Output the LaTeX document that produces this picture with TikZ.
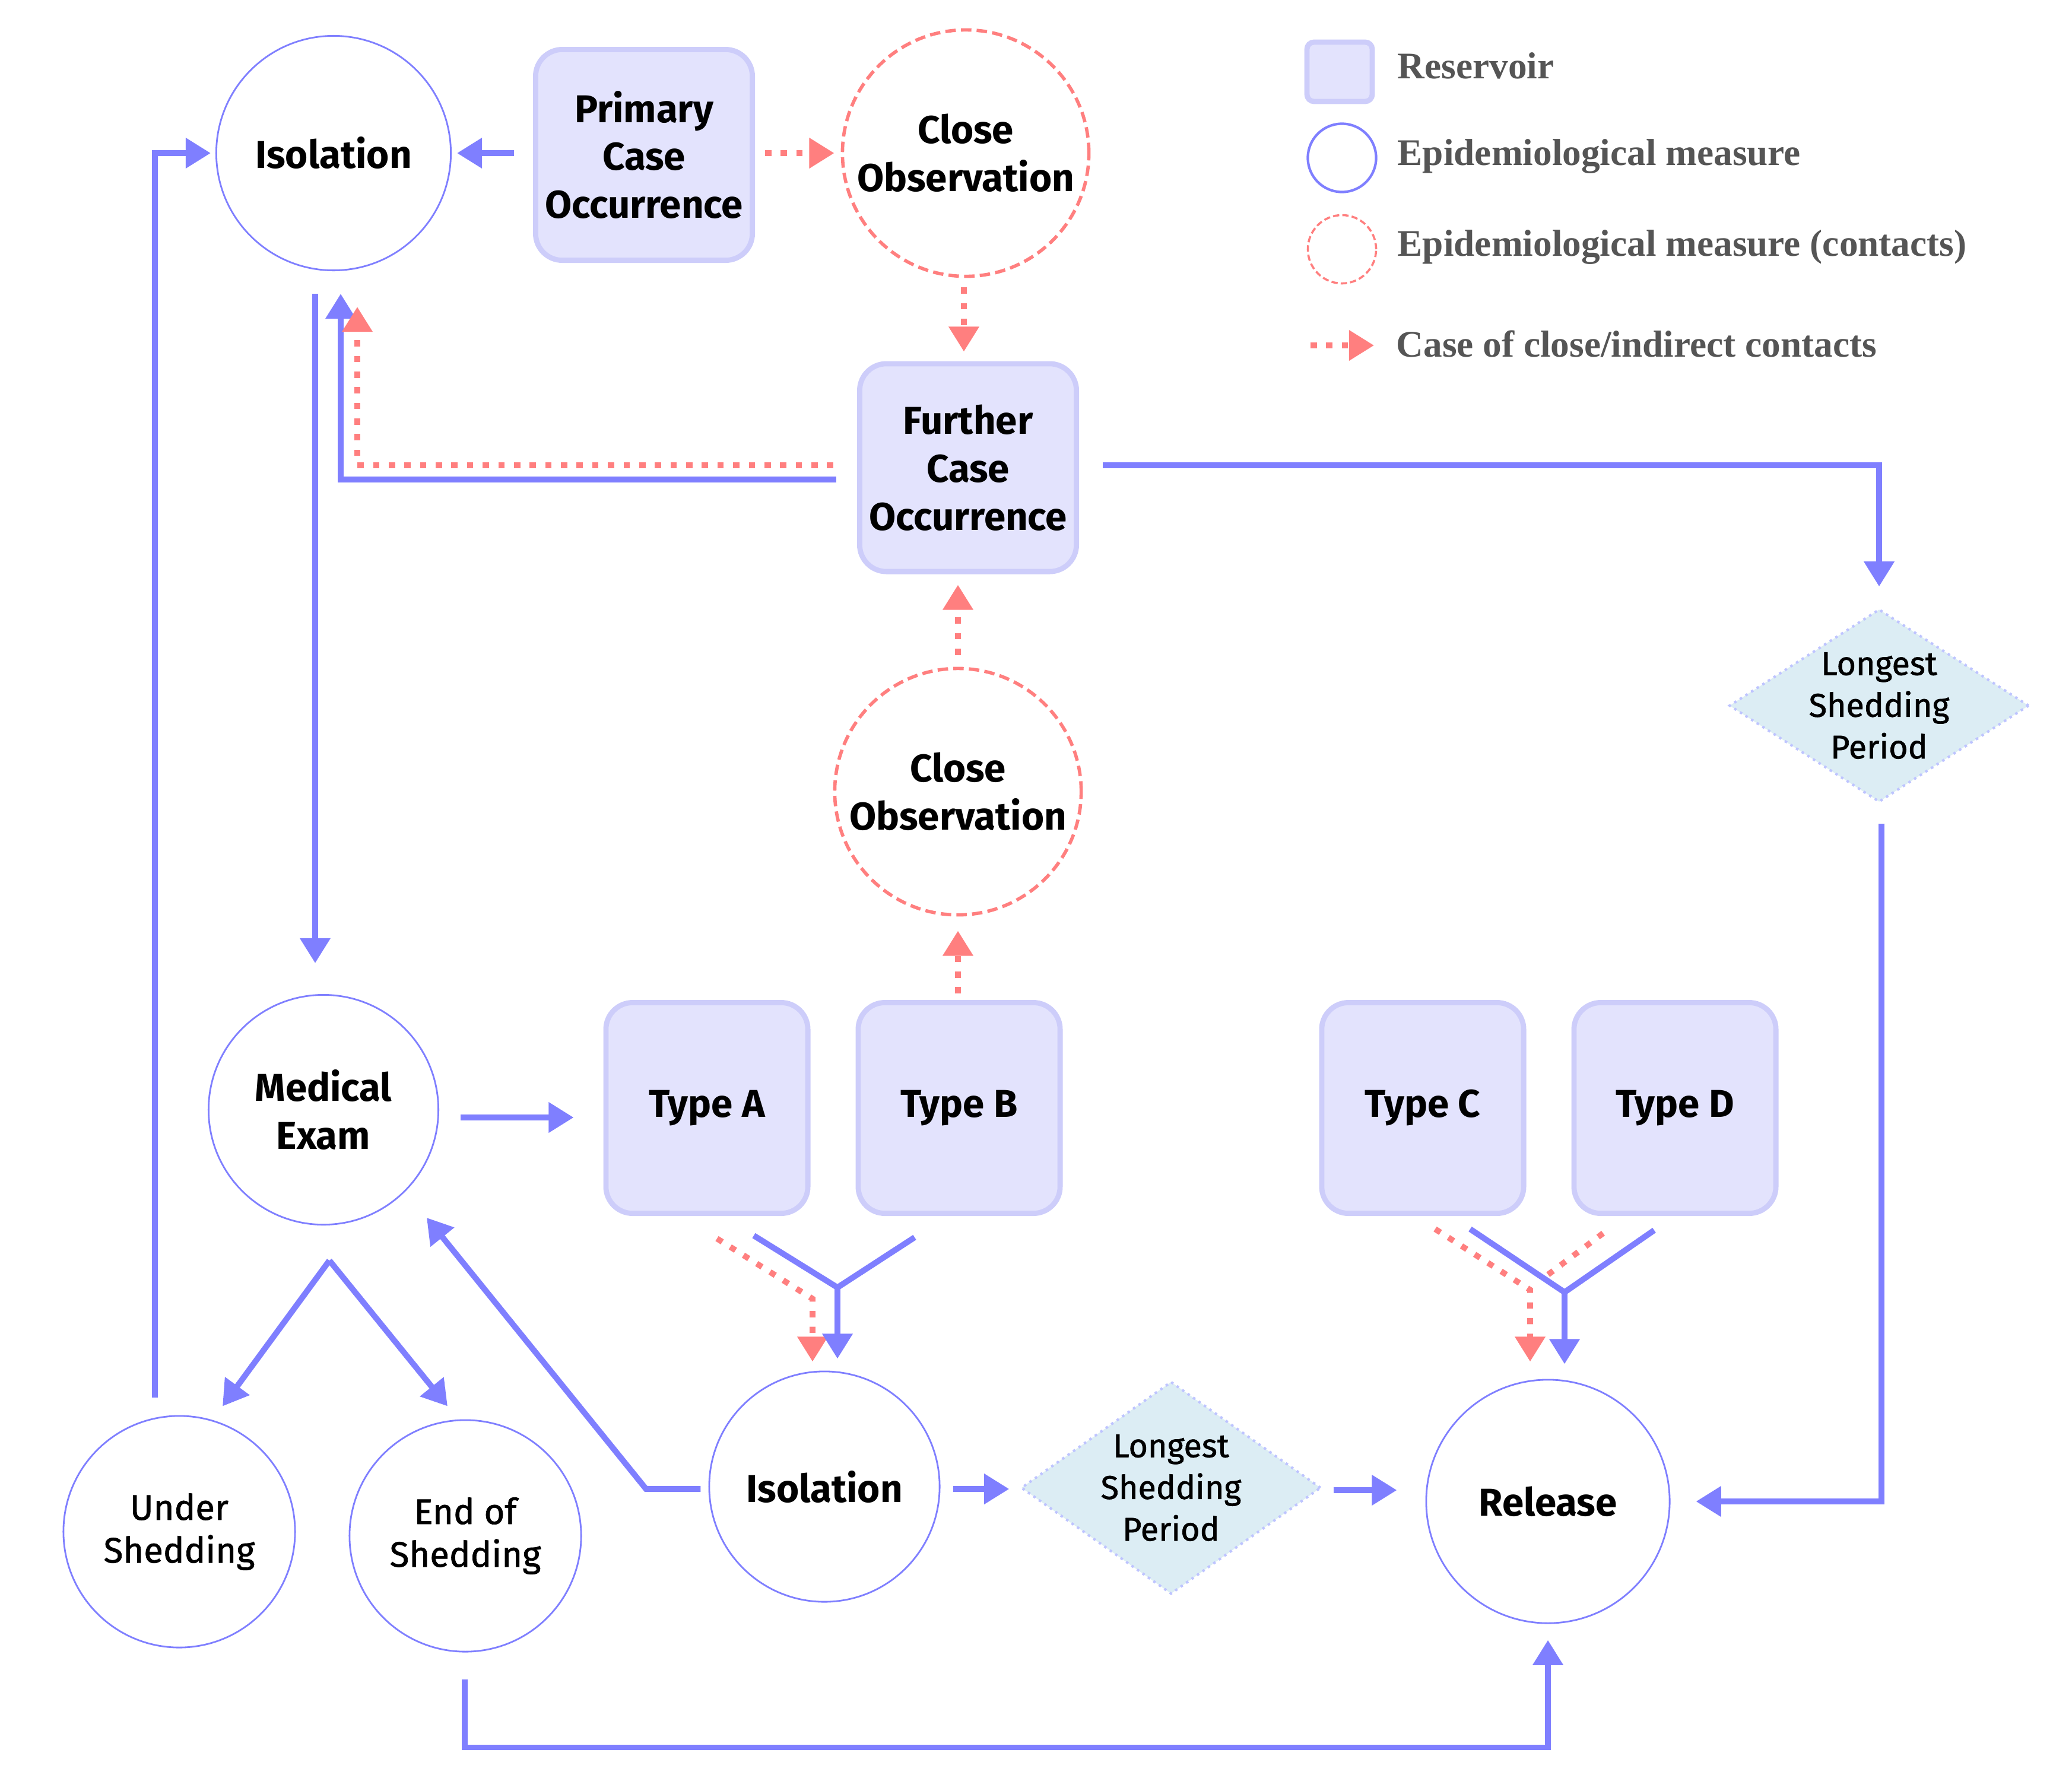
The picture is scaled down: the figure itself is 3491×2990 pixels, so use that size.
\documentclass[tikz,border=0pt]{standalone}
\usepackage{fontspec}
\newfontfamily\nsans{Fira Sans}
\newfontfamily\nsemi{Fira Sans}[FakeBold=1.2]
\newfontfamily\lserif{Liberation Serif}
\usetikzlibrary{arrows.meta,shapes.geometric,calc}
\definecolor{mblue}{RGB}{127,127,255}
\definecolor{mred}{RGB}{255,127,127}
\definecolor{boxfill}{RGB}{227,227,253}
\definecolor{boxedge}{RGB}{205,205,250}
\definecolor{diafill}{RGB}{220,237,244}
\definecolor{diaedge}{RGB}{190,196,255}
\definecolor{legtext}{RGB}{85,85,85}
\begin{document}
\begin{tikzpicture}[x=0.01cm,y=-0.01cm,
  bigtext/.style={font=\nsans\bfseries\fontsize{18.6}{23}\selectfont, align=center},
  smalltext/.style={font=\nsemi\fontsize{15.8}{20}\selectfont, align=center},
  shedtext/.style={font=\nsemi\fontsize{17}{20.5}\selectfont, align=center},
  meas/.style={circle, draw=mblue, line width=0.8pt, fill=white, inner sep=-0.6cm},
  cmeas/.style={circle, draw=mred, line width=1.6pt, dash pattern=on 5pt off 2.5pt, fill=white, inner sep=-0.6cm},
  resbox/.style={rectangle, rounded corners=0.45cm, fill=boxfill, draw=boxedge, line width=2.5pt, inner sep=-0.6cm},
  decis/.style={diamond, fill=diafill, draw=diaedge, line width=1.2pt, dotted, inner sep=-0.8cm},
  bline/.style={draw=mblue, line width=2.8pt},
  barrow/.style={bline, -{Triangle[length=12pt,width=14pt]}},
  rline/.style={draw=mred, line width=2.8pt, dash pattern=on 3pt off 4.5pt},
  rarrow/.style={rline, -{Triangle[length=12pt,width=14pt]}},
  legtxt/.style={font=\lserif\bfseries\fontsize{18}{22}\selectfont, text=legtext, anchor=west, inner sep=0pt}
]
\path[use as bounding box, fill=white] (0,0) rectangle (3491,2990);

% nodes
\node[meas, bigtext, minimum size=3.95cm] (iso1) at (562,258) {Isolation};
\node[resbox, bigtext, minimum width=3.65cm, minimum height=3.55cm] (prim) at (1085,261) {Primary\\Case\\Occurrence};
\node[cmeas, bigtext, minimum size=4.15cm] (co1) at (1627,258) {Close\\Observation};
\node[resbox, bigtext, minimum width=3.65cm, minimum height=3.5cm] (fur) at (1631,788) {Further\\Case\\Occurrence};
\node[decis, smalltext, minimum width=5.05cm, minimum height=3.25cm] (lsp2) at (3166,1189) {Longest\\Shedding\\Period};
\node[cmeas, bigtext, minimum size=4.15cm] (co2) at (1614,1334) {Close\\Observation};
\node[meas, bigtext, minimum size=3.87cm] (med) at (545,1870) {Medical\\Exam};
\node[resbox, bigtext, minimum width=3.4cm, minimum height=3.55cm] (ta) at (1191,1867) {Type A};
\node[resbox, bigtext, minimum width=3.4cm, minimum height=3.55cm] (tb) at (1616,1867) {Type B};
\node[resbox, bigtext, minimum width=3.4cm, minimum height=3.55cm] (tc) at (2397,1867) {Type C};
\node[resbox, bigtext, minimum width=3.4cm, minimum height=3.55cm] (td) at (2822,1867) {Type D};
\node[meas, shedtext, minimum size=3.9cm] (us) at (302,2581) {Under\\Shedding};
\node[meas, shedtext, minimum size=3.9cm] (es) at (784,2588) {End of\\Shedding};
\node[meas, bigtext, minimum size=3.88cm] (iso2) at (1389,2505) {Isolation};
\node[decis, smalltext, minimum width=5.05cm, minimum height=3.58cm] (lsp1) at (1973,2507) {Longest\\Shedding\\Period};
\node[meas, bigtext, minimum size=4.1cm] (rel) at (2608,2530) {Release};

% connectors
\draw[barrow] ($(prim.west |- iso1.east)+(-32,0)$) -- ($(iso1.east)+(9,0)$);
\draw[rarrow] ($(prim.east |- co1.west)+(17,0)$) -- ($(co1.west)+(-11,0)$);
\draw[rarrow] ($(co1.south)+(-3,16)$) -- ($(co1.south |- fur.north)+(-3,-16)$);
\draw[barrow] ($(fur.west)+(-35,20)$) -| ($(iso1.south)+(12,38)$);
\draw[rarrow] ($(fur.west)+(-40,-4)$) -| ($(iso1.south)+(40,60)$);
\draw[barrow] ($(iso1.south)+(-31,38)$) -- ($(iso1.south |- med.north)+(-31,-52)$);
\draw[barrow] ($(fur.east)+(40,-4)$) -| ($(lsp2.north)+(0,-36)$);
\draw[barrow] ($(lsp2.south)+(4,34)$) |- ($(rel.east)+(43,0)$);
\draw[rarrow] ($(tb.north)+(-2,-11)$) -- ($(co2.south)+(0,24)$);
\draw[rarrow] ($(co2.north)+(0,-20)$) -- ($(co2.north |- fur.south)+(0,18)$);
\draw[barrow] ($(med.east)+(36,13)$) -- ($(ta.west |- med.east)+(-50,13)$);
\coordinate (apex) at ($(med.south)+(10,59)$);
\draw[barrow] (apex) -- ($(us.north)+(73,-15)$);
\draw[barrow] (apex) -- ($(es.north)+(-30,-22)$);
\draw[barrow] ($(us.north)+(-41,-30)$) |- ($(iso1.west)+(-8,0)$);
\draw[barrow] ($(es.south)+(-1,45)$) -- ++(0,115) -| ($(rel.south)+(0,27)$);
\draw[barrow] ($(iso2.west)+(-13,4)$) -- ++(-92,0) -- ($(med.south east)+(36,44)$);
% Type A/B to Isolation
\coordinate (jab) at ($(iso2.north)+(22,-140)$);
\draw[rarrow] ($(ta.south)+(17,38)$) -- ($(iso2.north)+(-20,-121)$) -- ($(iso2.north)+(-20,-15)$);
\draw[bline] ($(ta.south)+(79,33)$) -- (jab) -- ($(tb.south)+(-75,36)$);
\draw[barrow] (jab) -- ($(iso2.north)+(22,-20)$);
% Type C/D to Release
\coordinate (jcd) at ($(rel.north)+(28,-146)$);
\draw[rarrow] ($(tc.south)+(21,22)$) -- ($(rel.north)+(-30,-150)$) -- ($(rel.north)+(-30,-29)$);
\draw[rline] ($(td.south)+(-121,29)$) -- ($(rel.north)+(-10,-168)$);
\draw[bline] ($(tc.south)+(80,22)$) -- (jcd) -- ($(td.south)+(-35,24)$);
\draw[barrow] (jcd) -- ($(rel.north)+(28,-25)$);
\draw[barrow] ($(iso2.east)+(21,4)$) -- ($(lsp1.west)+(-18,2)$);
\draw[barrow] ($(lsp1.east)+(19,4)$) -- ($(rel.west |- lsp1.east)+(-48,4)$);

% legend
\node[rectangle, rounded corners=0.12cm, fill=boxfill, draw=boxedge, line width=2.5pt, minimum width=1.1cm, minimum height=1.0cm, inner sep=0pt] (lres) at (2257,121) {};
\node[circle, draw=mblue, line width=1.2pt, minimum size=1.15cm, inner sep=0pt] (lmeas) at (2261,266) {};
\node[circle, draw=mred, line width=1pt, dash pattern=on 3pt off 1.5pt, minimum size=1.15cm, inner sep=0pt] (lcmeas) at (2261,420) {};
\coordinate (la1) at (2208,582);
\coordinate (la2) at (2315,582);
\draw[rarrow] (la1) -- (la2);
\node[legtxt] (lt1) at (2354,111) {Reservoir};
\node[legtxt] (lt2) at (2354,264) {Epidemiological measure};
\node[legtxt] (lt3) at (2354,417) {Epidemiological measure (contacts)};
\node[legtxt] (lt4) at (2352,580) {Case of close/indirect contacts};
\end{tikzpicture}
\end{document}
